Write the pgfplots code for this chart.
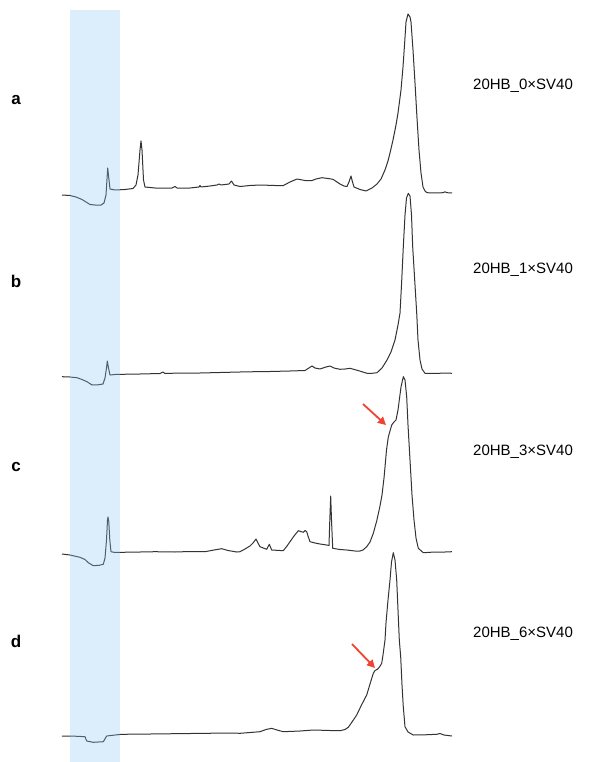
\documentclass[border=0pt]{standalone}
\usepackage{pgfplots}
\pgfplotsset{compat=1.18}
\usepackage{fontspec}
\setmainfont{Liberation Sans}
\usetikzlibrary{arrows.meta}
\definecolor{trace}{HTML}{333333}
\definecolor{band}{RGB}{140,195,245}
\definecolor{arrowred}{HTML}{EE4433}
\pgfplotsset{trc/.style={draw=trace, line width=1pt, line join=round, mark=none}}
\begin{document}
\begin{tikzpicture}
\begin{axis}[
    scale only axis, width=599pt, height=762pt,
    xmin=0, xmax=599, ymin=0, ymax=762, y dir=reverse,
    axis lines=none, clip=false,
]
\path (rel axis cs:0,0) rectangle (rel axis cs:1,1);
% a: 20HB_0xSV40
\addplot [trc] coordinates {(62,195)(70,195.5)(76,197)(82,199.5)(86,202)(90,204.5)(95,205)(101,205)(104,203)(106,195)(107.7,168)(109,180)(110,189)(115,190)(125,189.5)(133,188.5)(136,185)(138,175)(140,150)(141,141)(142,150)(143.5,180)(145,187)(150,187.5)(155,188)(165,188)(172,188)(175,186.5)(177,188)(190,188)(199,187)(200,185.5)(201,187)(210,186)(217,185)(219,184)(221,185)(229,184)(231.5,181)(234,185)(240,186.5)(250,185.5)(260,185)(275,185.5)(283,185.7)(290,182)(297,179)(305,180.5)(312,180.5)(316,179)(322,177.7)(328,178.5)(333,179.3)(337,182)(340,184)(344,186)(347,186.5)(349,182)(351,176)(352.5,182)(354,187)(360,189.5)(366,191)(372,188)(377,184)(381,179)(385,170)(388,161)(390,153)(393,140)(396,125)(398,113)(401,90)(403,67)(404.5,45)(406,22)(408,14)(410,17)(411,22)(413,50)(415,83)(417,118)(419,150)(421,173)(423,187)(425,191)(427,192.7)(435,193)(443,192.7)(445,191.8)(447,192.7)(452,193)};
% b: 20HB_1xSV40
\addplot [trc] coordinates {(62,376.7)(70,377)(77,377.7)(82,379.5)(87,381.7)(92,385)(98,384.8)(103,384)(105,378)(106.5,368)(107.3,361)(108.5,368)(110,375)(115,374.5)(122,374.3)(140,374)(160,373.5)(163,372)(165,373.5)(180,373)(200,373)(220,372.5)(240,372)(255,371.7)(270,371.5)(290,371)(305,370.5)(312,366)(315,368)(320,369)(326,367)(330,366)(334,368)(340,369.3)(345,369)(350,368.3)(358,370.5)(367,373.3)(372,373.3)(377,372.7)(382,368)(387,360)(391,352)(395,340)(398,325)(400,313)(401.5,285)(403.3,247)(405,215)(406.5,198)(408.3,193.3)(410,196)(411.5,215)(412.7,247)(415,285)(416.7,313)(418,340)(420,360)(422,369)(425,373.3)(435,373.5)(445,373)(452,373.3)};
% c: 20HB_3xSV40
\addplot [trc] coordinates {(62,554)(70,555)(80,557.3)(85,559.5)(88.3,562.7)(93.3,565.7)(99,565.3)(103.3,564.3)(105,558)(106.5,540)(107.5,520)(108,517)(108.8,522)(109.8,540)(111,551.7)(115,552.5)(121.7,552.3)(140,552)(155,551.7)(175,552)(190,551.5)(205,551.7)(214,550)(221.7,548.7)(228,550.5)(236.7,552)(240,551.7)(245,549)(250,546)(253,543)(256,539)(258,543)(260,546.7)(266.7,549.3)(269.3,544.3)(271.7,550)(283.3,550.7)(287,546)(290,541.7)(294,536)(298.3,530.7)(303.3,532.3)(305,530.5)(306.7,531.7)(308,536)(310,541.7)(315,543)(320,544)(326.7,545)(329,545.5)(329.8,520)(330.7,496)(331.5,520)(332.7,548.3)(340,549.5)(346.7,550)(355,551)(360,551)(363,550)(366.7,546.7)(370,542)(373.3,533.3)(376.7,521)(380,506)(382,495)(384,478)(385,467)(386.5,450)(388.3,437)(391.7,425)(394,422)(396,420)(398,410)(399.3,400)(401,387)(403.3,376.7)(405,380)(406.7,397)(408,425)(410,460)(412,495)(414,520)(416,538)(418.3,548.3)(423.3,552.7)(435,552)(445,552)(452,551.7)};
% d: 20HB_6xSV40
\addplot [trc] coordinates {(62,736)(75,736.2)(85,736.7)(86.7,741)(93.3,742.3)(103.3,741.7)(106.7,736)(115,735)(121.7,734.3)(150,734)(190,733.5)(230,733)(240,733.3)(250,732.5)(260,731.7)(266,729.5)(271.7,728.3)(277,730)(283.3,731.7)(300,731)(313.3,730)(330,730.5)(340,730.7)(345,729.5)(348.3,727.3)(352,722)(356.7,715)(361,706)(366.7,695)(370,684)(373.3,673.3)(375,670.5)(377.3,669.3)(379.5,667)(381.7,663.3)(383,655)(385,640)(386,623)(388,600)(390,580)(391.5,562)(393.3,552.7)(395,560)(396.7,580)(398,610)(399.3,640)(400.7,657)(402,685)(403.3,707)(405,726.7)(408,732)(413.3,735)(425,734.8)(436.7,734.3)(440,733.5)(444,735)(452,736)};
% highlighted band
\addplot [draw=none, fill=band, fill opacity=0.3] coordinates {(70,10)(120,10)(120,762)(70,762)} -- cycle;
% arrows
\draw[arrowred, line width=1.8pt, -{Triangle[length=8pt,width=8pt]}] (axis cs:363,404) -- (axis cs:386,425);
\draw[arrowred, line width=1.8pt, -{Triangle[length=8pt,width=8pt]}] (axis cs:352,644) -- (axis cs:375,668);
% panel letters
\node[anchor=base, font=\fontsize{17}{20}\selectfont\bfseries] at (axis cs:16,105) {a};
\node[anchor=base, font=\fontsize{17}{20}\selectfont\bfseries] at (axis cs:16,287) {b};
\node[anchor=base, font=\fontsize{17}{20}\selectfont\bfseries] at (axis cs:16,471) {c};
\node[anchor=base, font=\fontsize{17}{20}\selectfont\bfseries] at (axis cs:16,647) {d};
% sample labels
\node[anchor=base west, inner sep=0pt, font=\fontsize{15}{18}\selectfont] at (axis cs:473,90) {20HB\_0×SV40};
\node[anchor=base west, inner sep=0pt, font=\fontsize{15}{18}\selectfont] at (axis cs:473,273) {20HB\_1×SV40};
\node[anchor=base west, inner sep=0pt, font=\fontsize{15}{18}\selectfont] at (axis cs:473,455) {20HB\_3×SV40};
\node[anchor=base west, inner sep=0pt, font=\fontsize{15}{18}\selectfont] at (axis cs:473,637) {20HB\_6×SV40};
\end{axis}
\end{tikzpicture}
\end{document}
